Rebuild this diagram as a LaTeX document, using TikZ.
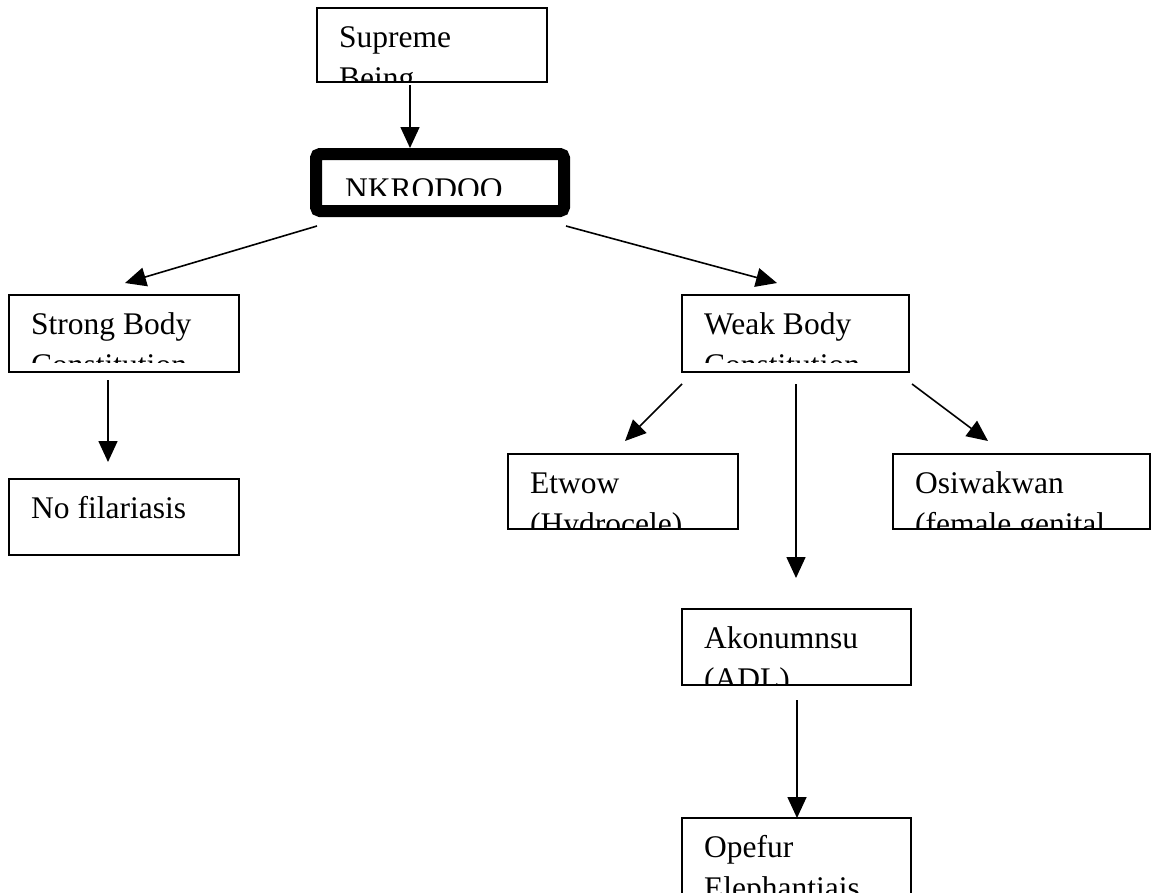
\documentclass[tikz,border=0pt]{standalone}
\usepackage{fontspec}
\setmainfont{Liberation Serif}
\usetikzlibrary{arrows.meta}
\newcommand\boxfont{\fontsize{31.5}{37}\selectfont}
% Text inside a framed box, cut off by the frame's lower margin.
% #1 node name, #2 cut above the bottom edge, #3 first line, #4 second line
\newcommand\framedtext[4]{%
  \begin{scope}
    \clip (#1.north west) rectangle ([shift={(0,-#2)}]#1.south east);
    \node[txt] at ([shift={(22,39.5)}]#1.north west) {#3};
    \node[txt] at ([shift={(22,80)}]#1.north west) {#4};
  \end{scope}}
\begin{document}
\begin{tikzpicture}[x=1pt,y=-1pt,
  frame/.style={draw=black, line width=1.6pt, fill=white, inner sep=0pt,
    outer sep=0pt, anchor=north west},
  thickframe/.style={frame, line width=12pt, rounded corners=4pt},
  txt/.style={anchor=base west, inner sep=0pt, font=\boxfont},
  arr/.style={draw=black, line width=1.6pt,
    -{Triangle[length=21pt, width=19pt]}}]
\useasboundingbox (0,0) rectangle (1155,892);

% boxes
\node[frame, minimum width=230pt, minimum height=74pt] (sp) at (317,8) {};
\node[thickframe, minimum width=248pt, minimum height=57pt] (nk) at (316,154) {};
\node[frame, minimum width=230pt, minimum height=77pt] (sb) at (9,295) {};
\node[frame, minimum width=227pt, minimum height=77pt] (wb) at (682,295) {};
\node[frame, minimum width=230pt, minimum height=76pt] (nf) at (9,479) {};
\node[frame, minimum width=230pt, minimum height=75pt] (et) at (508,454) {};
\node[frame, minimum width=257pt, minimum height=75pt] (os) at (893,454) {};
\node[frame, minimum width=229pt, minimum height=76pt] (ak) at (682,609) {};
\node[frame, minimum width=229pt, minimum height=100pt] (op) at (682,818) {};

% labels
\framedtext{sp}{2}{Supreme}{Being}
\begin{scope}
  \clip ([shift={(6,6)}]nk.north west) rectangle ([shift={(-6,-16)}]nk.south east);
  \node[txt] at ([shift={(29,45)}]nk.north west) {NKRODOO};
\end{scope}
\framedtext{sb}{10}{Strong Body}{Constitution}
\framedtext{wb}{10}{Weak Body}{Constitution}
\node[txt] at ([shift={(22,39.5)}]nf.north west) {No filariasis};
\framedtext{et}{2}{Etwow}{(Hydrocele)}
\framedtext{os}{2}{Osiwakwan}{(female genital}
\framedtext{ak}{2}{Akonumnsu}{(ADL)}
\framedtext{op}{25}{Opefur}{Elephantiais}

% connectors
\draw[arr] ([shift={(93,3)}]sp.south west) -- ([shift={(94,-6)}]nk.north west);
\draw[arr] ([shift={(1,15)}]nk.south west) -- ([shift={(116,-12)}]sb.north west);
\draw[arr] ([shift={(2,15)}]nk.south east) -- ([shift={(95,-12)}]wb.north west);
\draw[arr] ([shift={(99,8)}]sb.south west) -- ([shift={(99,-17)}]nf.north west);
\draw[arr] ([shift={(0,12)}]wb.south west) -- ([shift={(117,-13)}]et.north west);
\draw[arr] ([shift={(114,12)}]wb.south west) -- ([shift={(114,-31)}]ak.north west);
\draw[arr] ([shift={(3,12)}]wb.south east) -- ([shift={(95,-13)}]os.north west);
\draw[arr] ([shift={(115,15)}]ak.south west) -- ([shift={(115,0)}]op.north west);
\end{tikzpicture}
\end{document}
